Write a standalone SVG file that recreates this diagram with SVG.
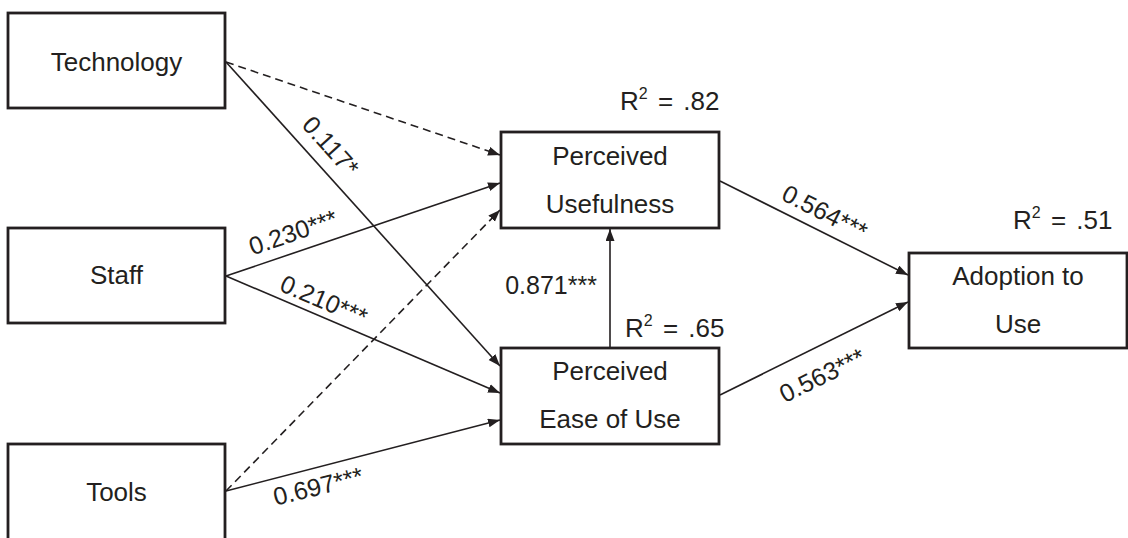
<svg xmlns="http://www.w3.org/2000/svg" width="1128" height="538" viewBox="0 0 1128 538">
<defs>
<style>
.box{fill:#fff;stroke:#231f20;stroke-width:2.8}
.t{font-family:"Liberation Sans",Arial,sans-serif;font-size:26px;fill:#231f20;text-anchor:middle}
.l{font-family:"Liberation Sans",Arial,sans-serif;font-size:25px;fill:#231f20;text-anchor:middle;dominant-baseline:central}
.r{font-family:"Liberation Sans",Arial,sans-serif;font-size:26px;fill:#231f20;word-spacing:3px}
.c{stroke:#231f20;stroke-width:1.6;fill:none;marker-end:url(#ah)}
.d{stroke-dasharray:8 5}
</style>
<marker id="ah" markerUnits="userSpaceOnUse" markerWidth="13" markerHeight="10" refX="12" refY="4.5" orient="auto">
<path d="M0,0 L12,4.5 L0,9 z" fill="#231f20"/>
</marker>
</defs>
<rect width="1128" height="538" fill="#fff"/>
<g id="connectors">
<line class="c d" x1="226" y1="62" x2="500" y2="155"/>
<line class="c" x1="226" y1="62" x2="500" y2="366"/>
<line class="c" x1="226" y1="276" x2="500" y2="183"/>
<line class="c" x1="226" y1="276" x2="500" y2="393"/>
<line class="c d" x1="226" y1="491" x2="500" y2="210"/>
<line class="c" x1="226" y1="491" x2="500" y2="420"/>
<line class="c" x1="610" y1="348" x2="610" y2="229"/>
<line class="c" x1="720" y1="181" x2="908" y2="275"/>
<line class="c" x1="720" y1="395" x2="908" y2="302"/>
<text class="l" transform="translate(331,146) rotate(48)">0.117*</text>
<text class="l" transform="translate(293,232) rotate(-19)">0.230***</text>
<text class="l" transform="translate(324,300) rotate(23)">0.210***</text>
<text class="l" transform="translate(318,486) rotate(-14)">0.697***</text>
<text class="l" transform="translate(825,212) rotate(27)">0.564***</text>
<text class="l" transform="translate(822,375) rotate(-26)">0.563***</text>
<text class="l" x="551" y="285">0.871***</text>
</g>
<g id="technology">
<rect class="box" x="8" y="13" width="217" height="95"/>
<text class="t" x="116.5" y="71">Technology</text>
</g>
<g id="staff">
<rect class="box" x="8" y="228" width="217" height="95"/>
<text class="t" x="116.5" y="284">Staff</text>
</g>
<g id="tools">
<rect class="box" x="8" y="444" width="217" height="100"/>
<text class="t" x="116.5" y="501">Tools</text>
</g>
<g id="perceived-usefulness">
<rect class="box" x="501" y="132" width="218" height="96"/>
<text class="t" x="610" y="165">Perceived</text>
<text class="t" x="610" y="213">Usefulness</text>
<text class="r" x="620" y="110">R<tspan font-size="16" dy="-11">2</tspan><tspan dy="11"> = .82</tspan></text>
</g>
<g id="perceived-ease-of-use">
<rect class="box" x="501" y="348" width="218" height="96"/>
<text class="t" x="610" y="380">Perceived</text>
<text class="t" x="610" y="428">Ease of Use</text>
<text class="r" x="625" y="337">R<tspan font-size="16" dy="-11">2</tspan><tspan dy="11"> = .65</tspan></text>
</g>
<g id="adoption-to-use">
<rect class="box" x="909" y="253" width="218" height="95"/>
<text class="t" x="1018" y="285">Adoption to</text>
<text class="t" x="1018" y="333">Use</text>
<text class="r" x="1013" y="229">R<tspan font-size="16" dy="-11">2</tspan><tspan dy="11"> = .51</tspan></text>
</g>
</svg>
